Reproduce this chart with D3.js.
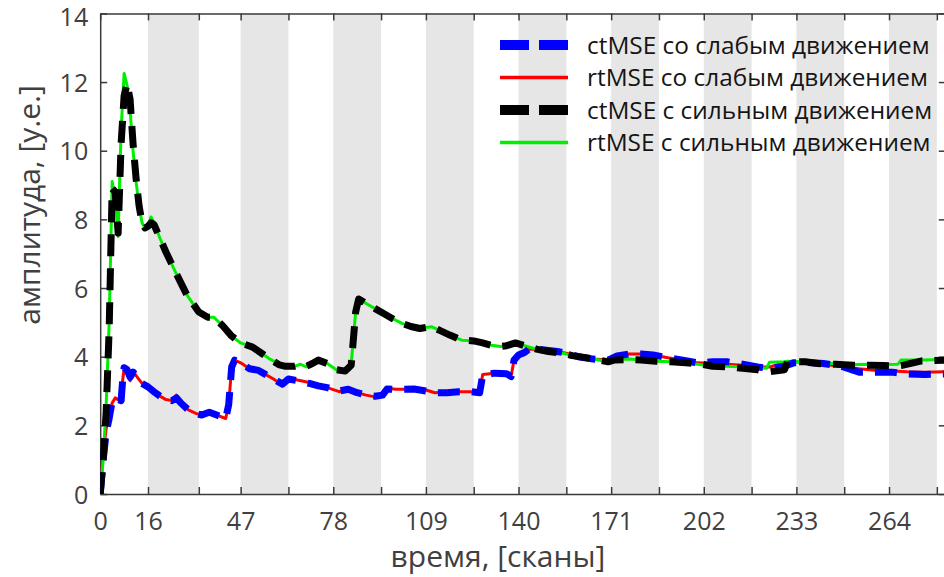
<!DOCTYPE html>
<html><head><meta charset="utf-8">
<script src="https://cdn.jsdelivr.net/npm/d3@7"></script>
<style>
html,body{margin:0;padding:0;background:#fff;}
svg{display:block;font-family:"Open Sans","Noto Sans",sans-serif;}
</style></head>
<body>
<svg id="chart" width="944" height="577"></svg>
<script>
// ---------- data ----------
const xTickLabels = [0, 16, 47, 78, 109, 140, 171, 202, 233, 264];
const xMinorTicks = [33, 63, 94, 125, 156, 187, 218, 249, 280];
const yTicks = [0, 2, 4, 6, 8, 10, 12, 14];
const bandStarts = [16, 47, 78, 109, 140, 171, 202, 233, 264];
const bandEnds   = [33, 63, 94, 125, 156, 187, 218, 249, 280];

const seriesNames = [
  "ctMSE со слабым движением",
  "rtMSE со слабым движением",
  "ctMSE с сильным движением",
  "rtMSE с сильным движением"
];

const scansStrong = [0,1,2,3,4,5,6,7,8,9,10,11,12,13,14,15,16,17,18,20,22,25,29,33,36,38,41,44,47,51,54,57,60,62,65,67,69,71,73,76,79,82,84,85.5,86.5,89,92,95,98,101,104,107,109,111,114,117,121,125,128,131,134,136,139,142,146,150,155,158,162,166,170,172,177,181,186,191,196,200,205,210,215,220,223,224,229,230,236,240,246,252,258,262,267,268,275,283];
const rtStrong = [0,1.0,2.6,5.0,9.1,8.6,7.5,10.6,12.25,11.9,11.2,10.0,9.1,8.4,7.9,7.75,7.8,8.07,7.9,7.45,7.05,6.5,5.8,5.3,5.15,5.15,4.9,4.6,4.4,4.28,4.1,3.92,3.78,3.72,3.72,3.78,3.7,3.8,3.92,3.8,3.62,3.58,3.8,5.3,5.7,5.55,5.4,5.25,5.1,4.97,4.88,4.82,4.85,4.87,4.75,4.63,4.48,4.46,4.4,4.33,4.3,4.32,4.4,4.32,4.22,4.15,4.1,4.03,3.98,3.92,3.85,3.92,3.93,3.9,3.87,3.85,3.8,3.78,3.72,3.72,3.7,3.68,3.66,3.84,3.85,3.87,3.85,3.8,3.8,3.77,3.78,3.77,3.78,3.9,3.9,3.92];
const ctStrong = [0,1.0,2.4,4.8,8.9,8.8,7.6,10.2,11.6,11.95,11.5,10.2,9.2,8.4,7.9,7.75,7.8,7.9,7.85,7.45,7.05,6.5,5.8,5.3,5.15,5.15,4.9,4.6,4.4,4.28,4.1,3.92,3.76,3.72,3.72,3.76,3.72,3.8,3.9,3.8,3.62,3.58,3.75,5.3,5.68,5.55,5.4,5.25,5.1,4.97,4.88,4.82,4.85,4.87,4.75,4.63,4.48,4.46,4.4,4.33,4.3,4.32,4.4,4.32,4.22,4.15,4.1,4.03,3.98,3.92,3.85,3.9,3.92,3.9,3.87,3.85,3.82,3.8,3.72,3.7,3.66,3.62,3.56,3.56,3.62,3.85,3.85,3.8,3.78,3.75,3.75,3.74,3.73,3.74,3.88,3.9];

const scansWeak = [0,1,2,3,4,5,6,7,7.5,8,9,10,11,12,14,16,18,20,22,24,25.5,27,29.5,32,34,36.5,39,42,43,44,45,47,50,53,55,58,61,63,66,70,73,76,80,83,86,89,92,94.5,96,99,102,105,109,112,116,120,124,127,128,132,136,137.5,138.5,140,142,143.5,146,150,153,156,160,165,170,173,177,181,185,190,195,200,205,210,215,220,224,229,232,237,242,248,254,260,265,270,276,283];
const rtWeak = [0,1.2,1.9,2.3,2.65,2.8,2.75,2.7,3.3,3.65,3.62,3.3,3.58,3.45,3.22,3.12,2.98,2.85,2.75,2.72,2.88,2.65,2.45,2.35,2.3,2.42,2.3,2.2,2.6,3.7,3.9,3.82,3.65,3.6,3.5,3.35,3.17,3.38,3.32,3.25,3.15,3.1,2.98,3.05,2.95,2.88,2.83,2.88,3.08,3.05,3.05,3.08,3.03,2.95,2.97,2.98,2.98,2.95,3.48,3.52,3.5,3.42,3.9,4.05,4.12,4.22,4.22,4.18,4.15,4.1,4.0,3.93,3.9,4.05,4.08,4.08,4.05,3.97,3.9,3.82,3.8,3.78,3.75,3.7,3.7,3.82,3.85,3.83,3.78,3.72,3.65,3.6,3.58,3.56,3.55,3.56];
const ctWeak = [0,1.0,1.8,2.2,2.7,2.8,2.75,2.72,3.3,3.68,3.62,3.4,3.55,3.45,3.22,3.12,2.98,2.85,2.75,2.72,2.8,2.65,2.45,2.35,2.3,2.38,2.3,2.2,2.6,3.7,3.9,3.82,3.65,3.6,3.5,3.35,3.2,3.35,3.3,3.22,3.15,3.1,3.0,3.05,2.95,2.88,2.85,2.88,3.06,3.05,3.05,3.06,3.0,2.95,2.95,2.98,2.98,2.95,3.46,3.52,3.5,3.42,3.9,4.05,4.12,4.22,4.22,4.18,4.15,4.1,4.0,3.93,3.9,4.02,4.08,4.08,4.05,3.97,3.9,3.82,3.85,3.85,3.78,3.7,3.66,3.72,3.82,3.83,3.8,3.72,3.55,3.55,3.55,3.5,3.48,3.5];

// ---------- layout ----------
const svg = d3.select("#chart");
const x0 = 100.2, x1 = 945.8, yTop = 13.4, yBot = 494;
const x = d3.scaleLinear().domain([0, 283]).range([x0, x1]);
const y = d3.scaleLinear().domain([0, 14]).range([yBot, yTop]);
const axisColor = "#3a3a3a", textColor = "#404040";

svg.append("defs").append("clipPath").attr("id", "clip")
  .append("rect").attr("x", x0).attr("y", yTop).attr("width", x1 - x0).attr("height", yBot - yTop);

// bands
svg.append("g").selectAll("rect").data(d3.range(bandStarts.length)).join("rect")
  .attr("x", i => x(bandStarts[i])).attr("y", yTop)
  .attr("width", i => x(bandEnds[i]) - x(bandStarts[i]))
  .attr("height", yBot - yTop)
  .attr("fill", "#e6e6e6");

// axes (inward ticks)
const allXTicks = xTickLabels.concat(xMinorTicks);
const xb = svg.append("g").attr("transform", `translate(0,${yBot})`)
  .call(d3.axisBottom(x).tickValues(allXTicks).tickSizeInner(-7).tickSizeOuter(0)
    .tickFormat(d => xTickLabels.includes(d) ? d : ""));
const xt = svg.append("g").attr("transform", `translate(0,${yTop})`)
  .call(d3.axisTop(x).tickValues(allXTicks).tickSizeInner(-7).tickSizeOuter(0).tickFormat(""));
const yl = svg.append("g").attr("transform", `translate(${x0},0)`)
  .call(d3.axisLeft(y).tickValues(yTicks).tickSizeInner(-7).tickSizeOuter(0));
const yr = svg.append("g").attr("transform", `translate(${x1},0)`)
  .call(d3.axisRight(y).tickValues(yTicks).tickSizeInner(-7).tickSizeOuter(0).tickFormat(""));
[xb, xt, yl, yr].forEach(g => {
  g.selectAll("path.domain").attr("stroke", axisColor).attr("stroke-width", 1.5);
  g.selectAll(".tick line").attr("stroke", axisColor).attr("stroke-width", 1.5);
  g.selectAll(".tick text").attr("fill", textColor).attr("font-size", 25)
    .attr("font-family", "'Open Sans', sans-serif");
});
xb.selectAll(".tick text").attr("dy", 0).attr("y", 36);
yl.selectAll(".tick text").attr("x", -12).attr("dy", "0.36em");
yl.selectAll(".tick").filter(d => d === 14).select("text").attr("dy", "0.7em").attr("y", -5);

// lines
const line = (xs, ys) => d3.line().x((d, i) => x(xs[i])).y((d, i) => y(ys[i]))(ys);
const plot = svg.append("g").attr("clip-path", "url(#clip)");
const styles = [
  {name: seriesNames[1], xs: scansWeak, ys: rtWeak, color: "#ff0000", w: 3, dash: null},
  {name: seriesNames[3], xs: scansStrong, ys: rtStrong, color: "#00ee00", w: 3, dash: null},
  {name: seriesNames[0], xs: scansWeak, ys: ctWeak, color: "#0000ff", w: 7, dash: "22,12"},
  {name: seriesNames[2], xs: scansStrong, ys: ctStrong, color: "#000000", w: 7, dash: "22,12"}
];
styles.forEach(s => {
  plot.append("path").attr("d", line(s.xs, s.ys)).attr("fill", "none")
    .attr("stroke", s.color).attr("stroke-width", s.w)
    .attr("stroke-dasharray", s.dash).attr("stroke-linejoin", "round");
});

// legend
const legendItems = [
  {name: seriesNames[0], color: "#0000ff", w: 10, dash: "29,10"},
  {name: seriesNames[1], color: "#ff0000", w: 3.5, dash: null},
  {name: seriesNames[2], color: "#000000", w: 10, dash: "29,10"},
  {name: seriesNames[3], color: "#00ee00", w: 3.5, dash: null}
];
const lg = svg.append("g");
legendItems.forEach((it, i) => {
  const cy = 45 + i * 32.5;
  lg.append("line").attr("x1", 500).attr("x2", 568).attr("y1", cy).attr("y2", cy)
    .attr("stroke", it.color).attr("stroke-width", it.w).attr("stroke-dasharray", it.dash);
  lg.append("text").attr("x", 587).attr("y", cy).attr("dy", "0.35em")
    .attr("font-size", 24.4).attr("fill", "#151515").text(it.name);
});

// axis titles
svg.append("text").attr("x", 498).attr("y", 567).attr("text-anchor", "middle")
  .attr("font-size", 30).attr("fill", textColor).text("время, [сканы]");
svg.append("text").attr("transform", "translate(40,205) rotate(-90)").attr("text-anchor", "middle")
  .attr("font-size", 30).attr("fill", textColor).text("амплитуда, [у.е.]");
</script>
</body></html>
